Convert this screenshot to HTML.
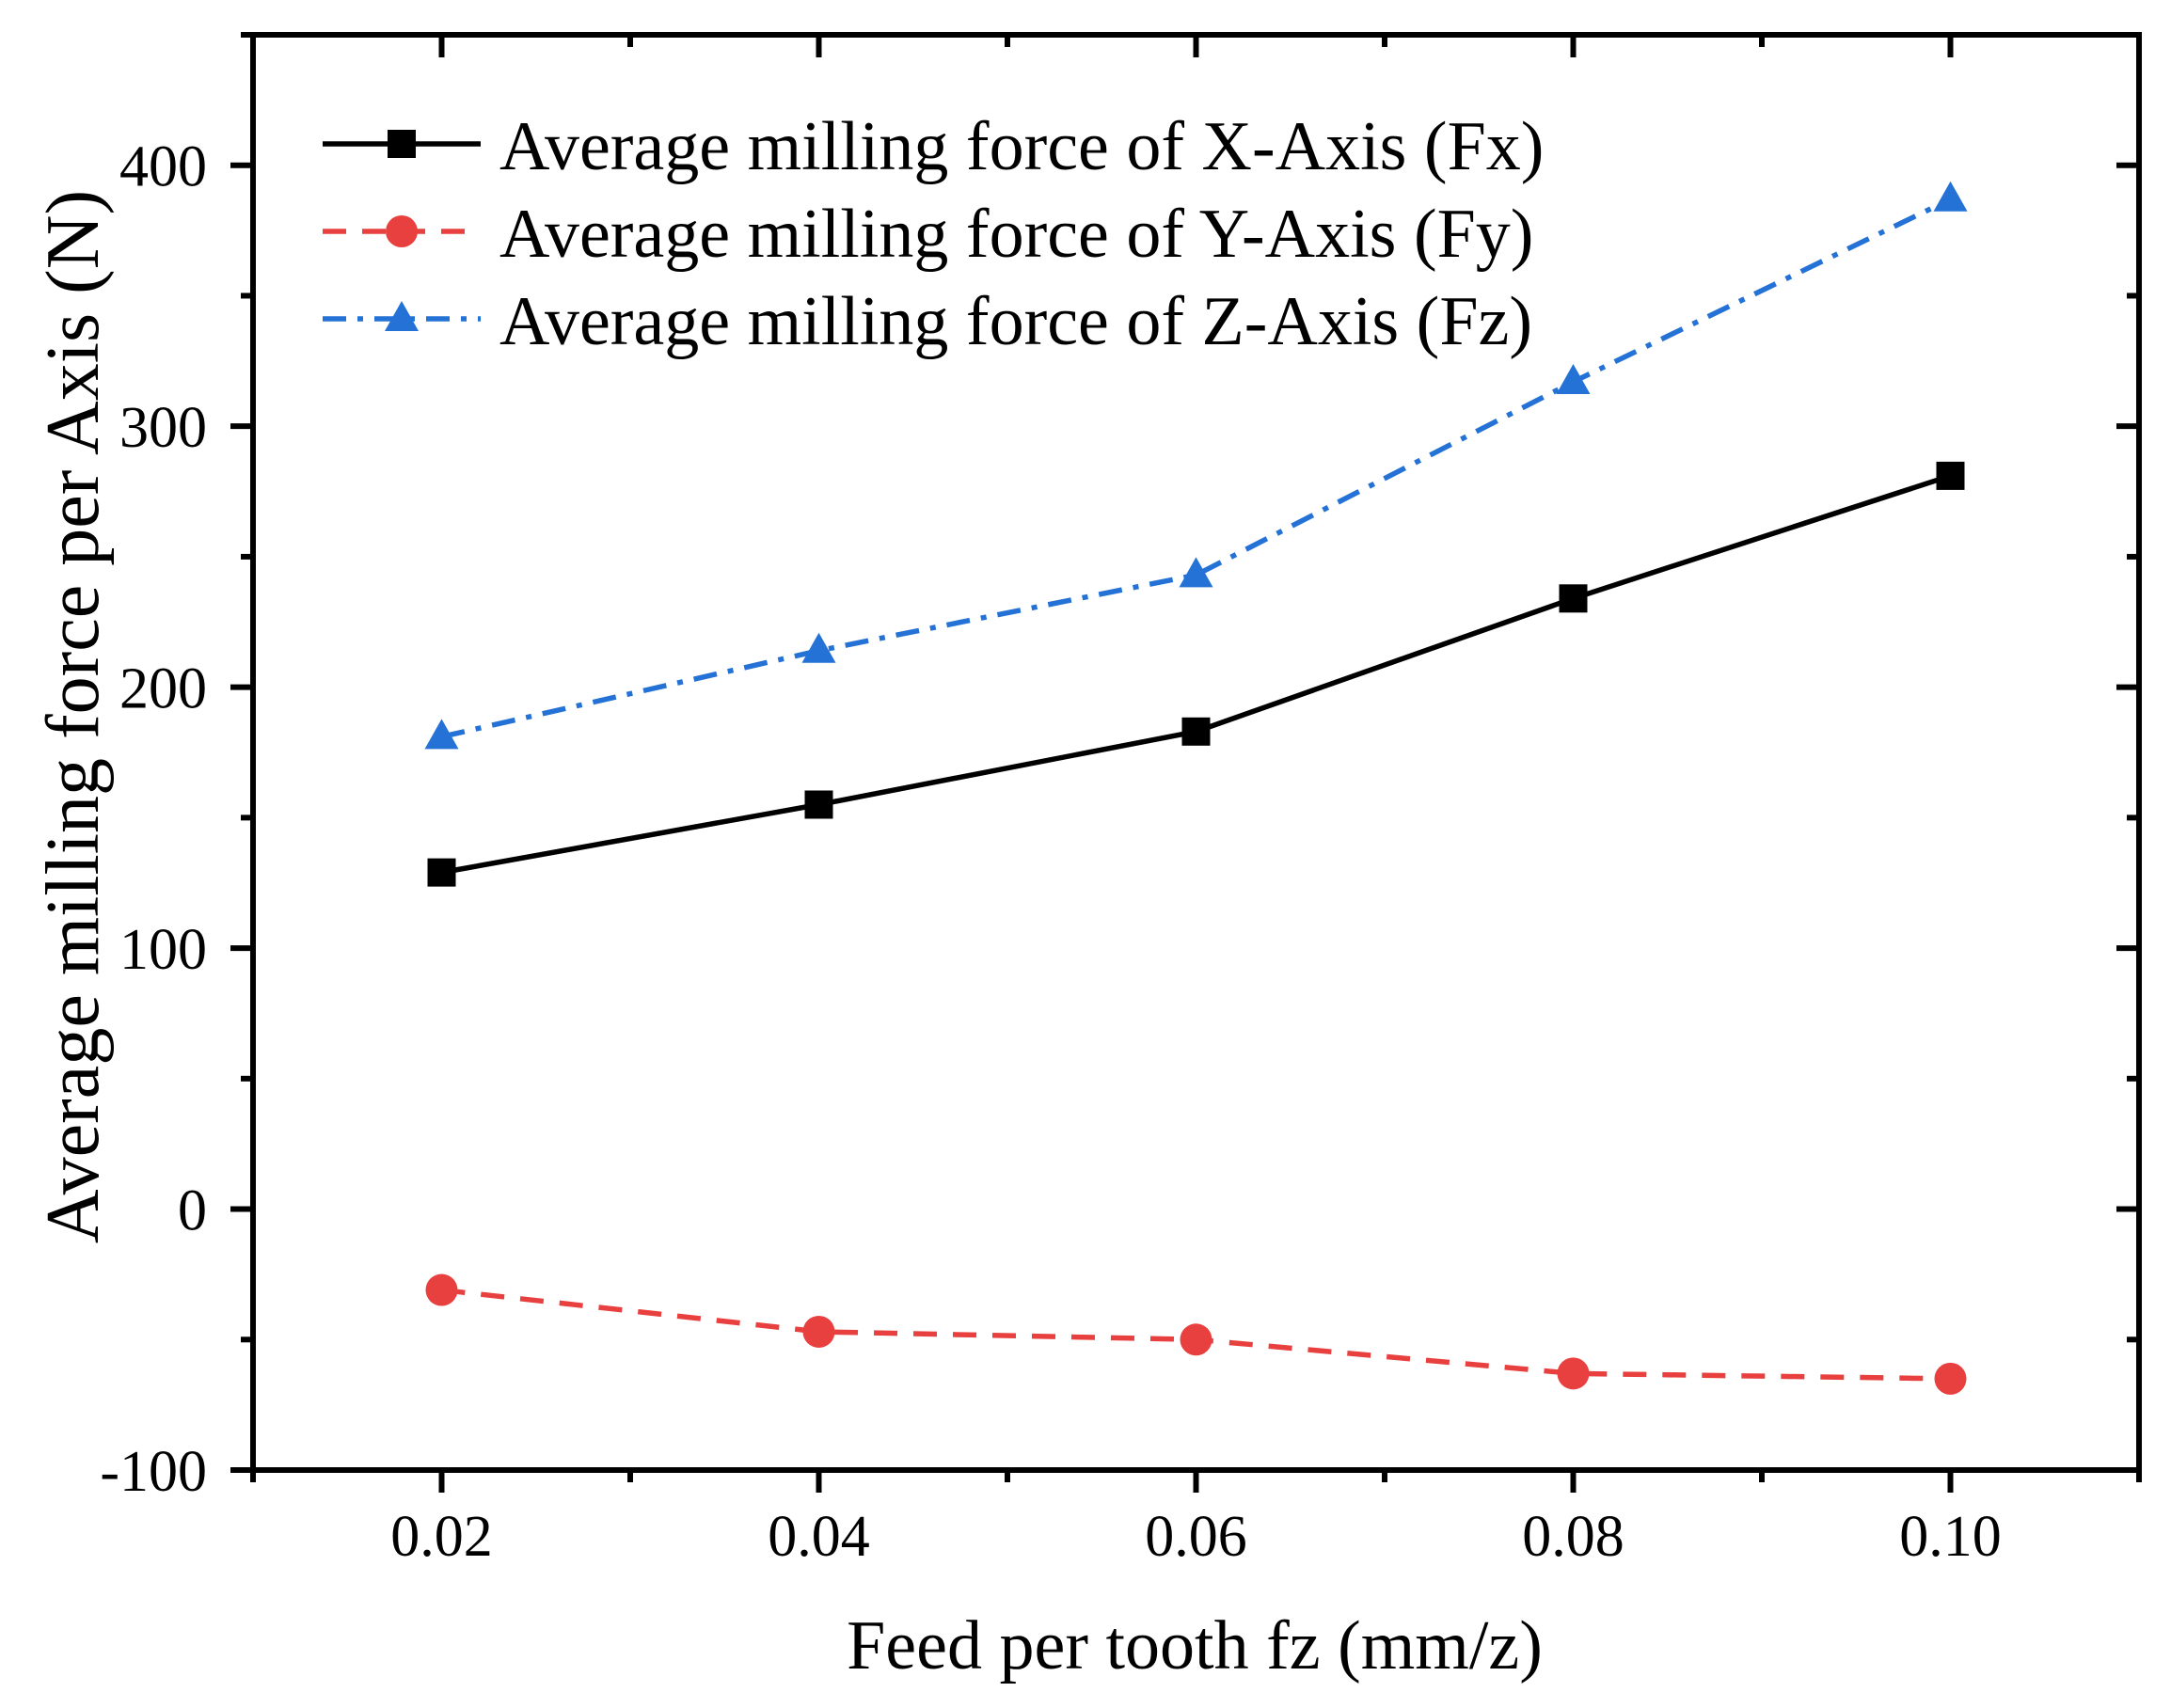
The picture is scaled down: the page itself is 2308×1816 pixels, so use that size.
<!DOCTYPE html>
<html><head><meta charset="utf-8"><style>
html,body{margin:0;padding:0;background:#fff;}
svg{display:block;font-family:"Liberation Serif","Times New Roman",serif;}
</style></head><body>
<svg id="chart" width="2308" height="1816" viewBox="0 0 2308 1816"></svg>
<script>
const categories = [0.02, 0.04, 0.06, 0.08, 0.10];
const fxValues = [129, 155, 183, 234, 281];
const fyValues = [-31, -47, -50, -63, -65];
const fzValues = [181, 214, 243, 317, 387];
const yTicks = [-100, 0, 100, 200, 300, 400];
const xTickLabels = ["0.02", "0.04", "0.06", "0.08", "0.10"];
const seriesNames = ["Average milling force of X-Axis (Fx)", "Average milling force of Y-Axis (Fy)", "Average milling force of Z-Axis (Fz)"];

const NS = "http://www.w3.org/2000/svg";
const svg = document.getElementById("chart");
const L = 269, R = 2274, T = 37, B = 1563;
const xMin = 0.01, xMax = 0.11, yMin = -100, yMax = 450;
const xs = v => L + (v - xMin) / (xMax - xMin) * (R - L);
const ys = v => B - (v - yMin) / (yMax - yMin) * (B - T);

function el(tag, attrs, parent) {
  const e = document.createElementNS(NS, tag);
  for (const k in attrs) e.setAttribute(k, attrs[k]);
  (parent || svg).appendChild(e);
  return e;
}

const frame = el("rect", {x: L, y: T, width: R - L, height: B - T, fill: "none", stroke: "#000", "stroke-width": 6});



for (let v = yMin; v <= yMax; v += 50) {
  const major = v % 100 === 0;
  const len = major ? 24 : 13;
  const y = ys(v);
  const t1 = el("line", {x1: L - len, x2: L, y1: y, y2: y, stroke: "#000", "stroke-width": 6});
  
  
  const t2 = el("line", {x1: R - len, x2: R, y1: y, y2: y, stroke: "#000", "stroke-width": 6});
  
  
}
yTicks.forEach(v => {
  const t = el("text", {x: 220, y: ys(v) + 22, "text-anchor": "end", "font-size": 62, fill: "#000"});
  t.textContent = v;
  
  
});
for (let i = 0; i <= 10; i++) {
  const v = xMin + i * 0.01;
  const major = i % 2 === 1;
  const len = major ? 24 : 13;
  const x = xs(v);
  const t1 = el("line", {x1: x, x2: x, y1: B, y2: B + len, stroke: "#000", "stroke-width": 6});
  
  
  const t2 = el("line", {x1: x, x2: x, y1: T, y2: T + len, stroke: "#000", "stroke-width": 6});
  
  
}
categories.forEach((c, i) => {
  const t = el("text", {x: xs(c), y: 1654, "text-anchor": "middle", "font-size": 62, fill: "#000"});
  t.textContent = xTickLabels[i];
  
  
});
const xt = el("text", {x: 1270, y: 1774, "text-anchor": "middle", "font-size": 74, fill: "#000"});
xt.textContent = "Feed per tooth fz (mm/z)";


const yt = el("text", {x: 0, y: 0, "text-anchor": "middle", "font-size": 80, fill: "#000", transform: "translate(104,762) rotate(-90)"});
yt.textContent = "Average milling force per Axis (N)";



const styles = [
  {color: "#000000", dash: "", marker: "square"},
  {color: "#e8403f", dash: "25,17", marker: "circle"},
  {color: "#2472d6", dash: "25,12,6,12", marker: "triangle"}
];
const allValues = [fxValues, fyValues, fzValues];

function marker(type, x, y, color, g) {
  if (type === "square") return el("rect", {x: x - 15, y: y - 15, width: 30, height: 30, fill: color}, g);
  if (type === "circle") return el("circle", {cx: x, cy: y, r: 17, fill: color}, g);
  return el("polygon", {points: `${x},${y - 19} ${x - 18},${y + 13} ${x + 18},${y + 13}`, fill: color}, g);
}

allValues.forEach((vals, s) => {
  const st = styles[s];
  const g = el("g", {});
  
  
  const pts = vals.map((v, i) => xs(categories[i]) + "," + ys(v)).join(" ");
  const line = el("polyline", {points: pts, fill: "none", stroke: st.color, "stroke-width": 5.5, "stroke-dasharray": st.dash}, g);
  
  
  vals.forEach((v, i) => {
    const m = marker(st.marker, xs(categories[i]), ys(v), st.color, g);
    
    
  });
  const ly = 153 + s * 93;
  const lg = el("g", {});
  
  
  const ll = el("line", {x1: 343, x2: 511, y1: ly, y2: ly, stroke: st.color, "stroke-width": 5.5, "stroke-dasharray": st.dash}, lg);
  
  
  const lm = marker(st.marker, 427, ly, st.color, lg);
  
  
  const lt = el("text", {x: 531, y: ly + 27, "font-size": 74, fill: "#000"}, lg);
  lt.textContent = seriesNames[s];
  
  
});
</script>
</body></html>
